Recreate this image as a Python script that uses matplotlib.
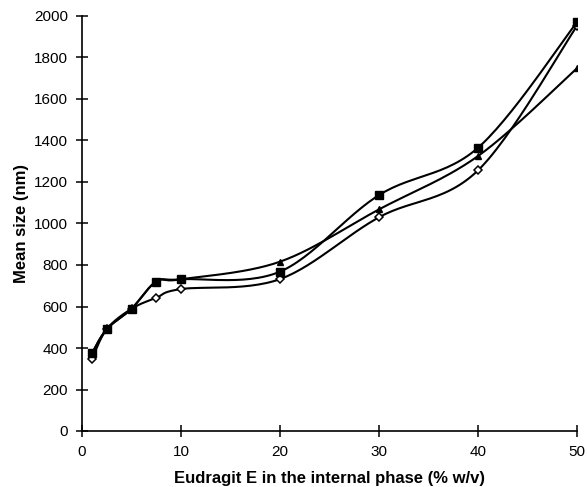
import numpy as np
import matplotlib
matplotlib.use("Agg")
import matplotlib.pyplot as plt

plt.rcParams['font.family'] = ['Liberation Sans', 'DejaVu Sans']

x = [1, 2.5, 5, 7.5, 10, 20, 30, 40, 50]
sq = [374, 491, 589, 720, 731, 768, 1137, 1365, 1970]
tri = [374, 491, 589, 720, 731, 816, 1068, 1325, 1748]
dia = [347, 491, 589, 642, 684, 732, 1030, 1256, 1952]

XMAX, YMAX = 50, 2000
fig = plt.figure(figsize=(5.87, 4.87), dpi=100)
ax = fig.add_axes([82/587, 1-431/487, (577-82)/587, (431-16)/487])
ax.set_xlim(0, XMAX)
ax.set_ylim(0, YMAX)

# axis pixel sizes used for Excel-like smoothing in screen space
W, H = 577-82, 431-16


def smooth(xs, ys, n=30):
    px = np.array(xs, float) / XMAX * W
    py = np.array(ys, float) / YMAX * H
    P = np.column_stack([px, py])
    out = [P[0]]
    for i in range(len(P) - 1):
        p0 = P[i - 1] if i > 0 else P[i]
        p1 = P[i]
        p2 = P[i + 1]
        p3 = P[i + 2] if i + 2 < len(P) else P[i + 1]
        c1 = p1 + (p2 - p0) / 6
        c2 = p2 - (p3 - p1) / 6
        t = np.linspace(0, 1, n)[1:, None]
        b = ((1 - t) ** 3) * p1 + 3 * ((1 - t) ** 2) * t * c1 + 3 * (1 - t) * t ** 2 * c2 + t ** 3 * p2
        out.extend(b)
    out = np.array(out)
    return out[:, 0] / W * XMAX, out[:, 1] / H * YMAX


for ys in (tri, dia, sq):
    sx, sy = smooth(x, ys)
    ax.plot(sx, sy, color='black', lw=1.5, zorder=2)

ax.plot(x, dia, linestyle='none', marker='D', ms=4, mfc='white', mec='black', mew=1.1, zorder=3)
ax.plot(x, tri, linestyle='none', marker='^', ms=5, color='black', zorder=4)
ax.plot(x, sq, linestyle='none', marker='s', ms=5.5, color='black', zorder=5)

ax.spines['top'].set_visible(False)
ax.spines['right'].set_visible(False)
ax.spines['left'].set_linewidth(1.2)
ax.spines['bottom'].set_linewidth(1.2)

ax.set_xticks(range(0, 51, 10))
ax.set_yticks(range(0, 2001, 200))
ax.tick_params(direction='inout', length=8, width=1.1, labelsize=11, pad=6)

ax.set_xlabel('Eudragit E in the internal phase (% w/v)', fontsize=12, fontweight='bold', labelpad=9)
ax.set_ylabel('Mean size (nm)', fontsize=12, fontweight='bold', labelpad=4)

fig.savefig('out.png', dpi=100)
